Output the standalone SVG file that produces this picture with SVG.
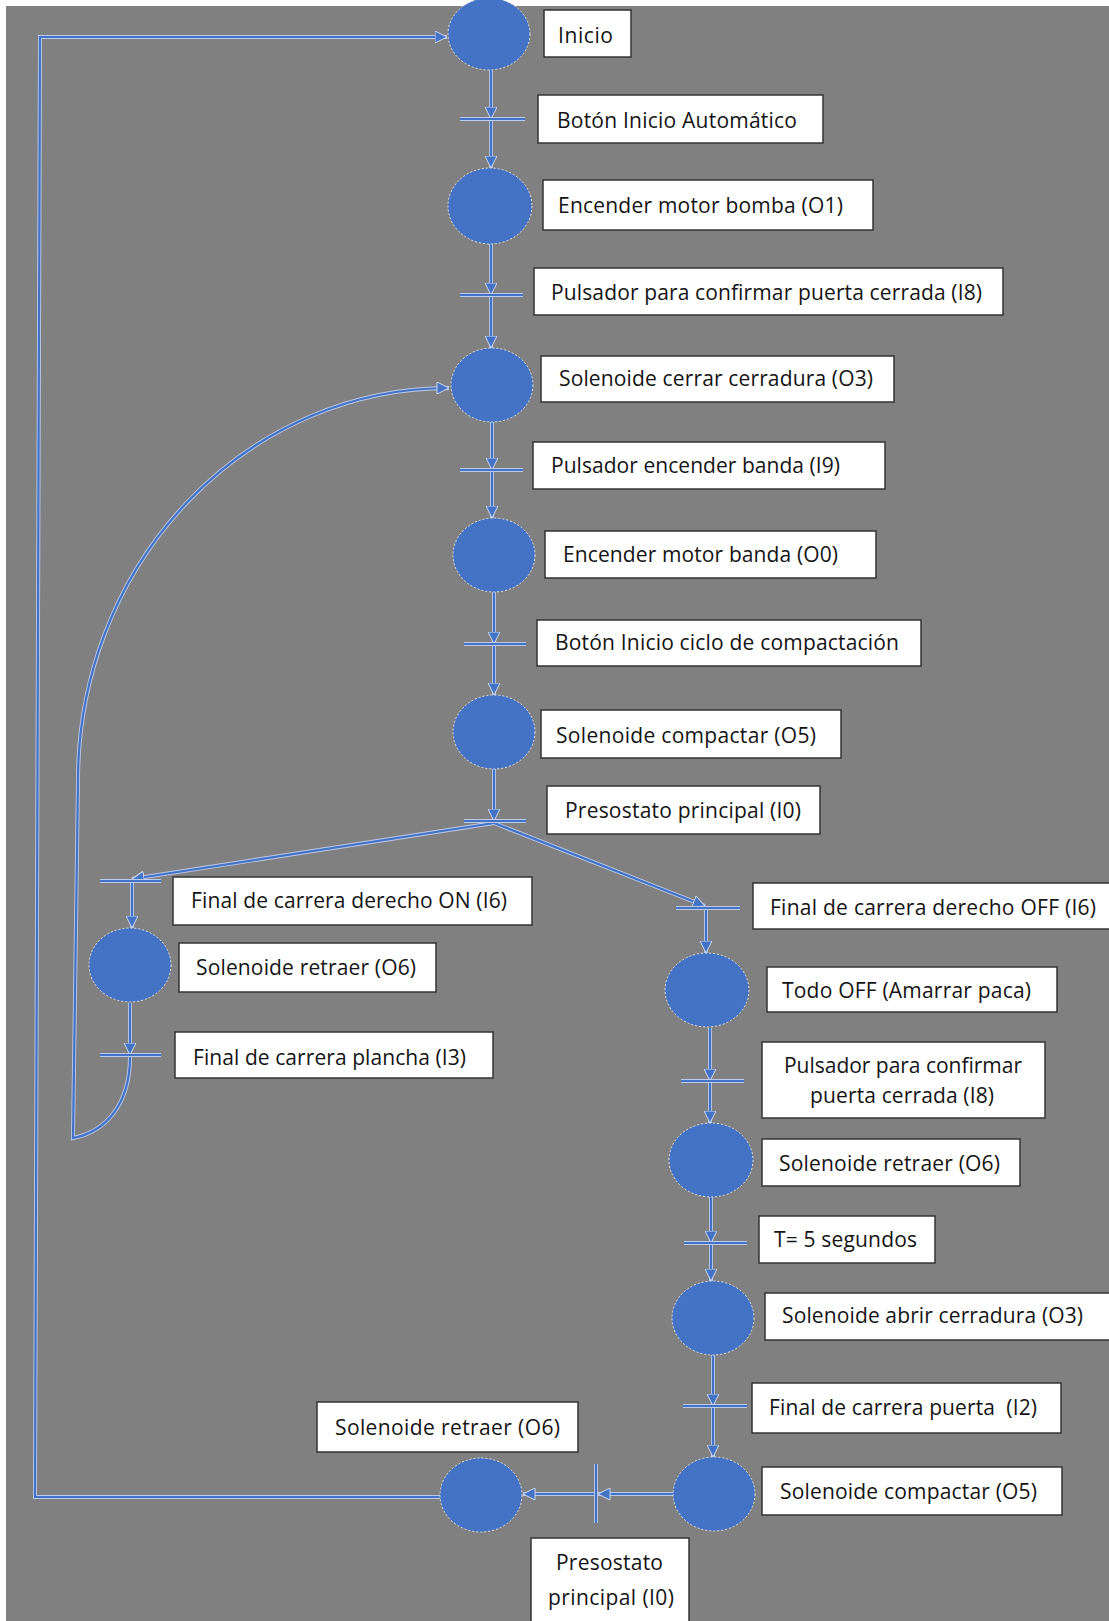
<svg xmlns="http://www.w3.org/2000/svg" width="1109" height="1621" viewBox="0 0 1109 1621">
  <style>
    .bg{fill:#808080}
    .step{fill:#4472C4;stroke:#e4e4e4;stroke-width:1;stroke-dasharray:2 2}
    .box{fill:#ffffff;stroke:#333333;stroke-width:1.5}
    .lbl{font-family:"Open Sans","Noto Sans","DejaVu Sans",sans-serif;font-size:21px;fill:#141414}
    .halo{fill:none;stroke:#bccbeb;stroke-width:4}
    .wire{fill:none;stroke:#4472C4;stroke-width:2.2}
    .wire.a{marker-end:url(#ah)}
    .barh{fill:none;stroke:#bccbeb;stroke-width:4}
    .bar{fill:none;stroke:#4472C4;stroke-width:2.2}
  </style>
  <defs>
    <marker id="ah" viewBox="0 0 10 10" refX="10" refY="5" markerWidth="13" markerHeight="12" markerUnits="userSpaceOnUse" orient="auto">
      <path d="M0,0 L10,5 L0,10 Z" fill="#4472C4" stroke="#d2dcf2" stroke-width="0.8"/>
    </marker>
  </defs>

  <rect x="0" y="0" width="1109" height="1621" fill="#ffffff"/>
  <rect class="bg" x="6" y="6" width="1103" height="1615"/>

  <!-- connectors: light halo first, blue wire on top -->
  <g id="connectors">
    <g class="halo">
      <path d="M491,70 V119"/>
      <path d="M491,121 V168"/>
      <path d="M491,244 V295"/>
      <path d="M491,297 V348"/>
      <path d="M492,422 V470"/>
      <path d="M492,472 V518"/>
      <path d="M494,592 V644"/>
      <path d="M494,646 V695"/>
      <path d="M494,769 V821"/>
      <path d="M494,823 L132,879"/>
      <path d="M494,823 L705,906"/>
      <path d="M132,883 V928"/>
      <path d="M130,1003 V1055"/>
      <path d="M130,1057 C130,1105 105,1132 73,1138 L78,780 A371,392 0 0 1 449,388"/>
      <path d="M706,910 V953"/>
      <path d="M710,1028 V1081"/>
      <path d="M710,1083 V1123"/>
      <path d="M711,1197 V1243"/>
      <path d="M711,1245 V1281"/>
      <path d="M713,1355 V1406"/>
      <path d="M713,1408 V1457"/>
      <path d="M673,1494 H598"/>
      <path d="M596,1494 H523"/>
      <path d="M440,1497 H35 L40,37 H447"/>
    </g>
    <g>
      <path class="wire a" d="M491,70 V119"/>
      <path class="wire a" d="M491,121 V168"/>
      <path class="wire a" d="M491,244 V295"/>
      <path class="wire a" d="M491,297 V348"/>
      <path class="wire a" d="M492,422 V470"/>
      <path class="wire a" d="M492,472 V518"/>
      <path class="wire a" d="M494,592 V644"/>
      <path class="wire a" d="M494,646 V695"/>
      <path class="wire a" d="M494,769 V821"/>
      <path class="wire a" d="M494,823 L132,879"/>
      <path class="wire a" d="M494,823 L705,906"/>
      <path class="wire a" d="M132,883 V928"/>
      <path class="wire a" d="M130,1003 V1055"/>
      <path class="wire a" d="M130,1057 C130,1105 105,1132 73,1138 L78,780 A371,392 0 0 1 449,388"/>
      <path class="wire a" d="M706,910 V953"/>
      <path class="wire a" d="M710,1028 V1081"/>
      <path class="wire a" d="M710,1083 V1123"/>
      <path class="wire a" d="M711,1197 V1243"/>
      <path class="wire a" d="M711,1245 V1281"/>
      <path class="wire a" d="M713,1355 V1406"/>
      <path class="wire a" d="M713,1408 V1457"/>
      <path class="wire a" d="M673,1494 H598"/>
      <path class="wire a" d="M596,1494 H523"/>
      <path class="wire a" d="M440,1497 H35 L40,37 H447"/>
    </g>
  </g>

  <!-- steps (circles) with their action labels -->
  <g id="step-inicio">
    <ellipse class="step" cx="489" cy="34" rx="41" ry="36"/>
    <rect class="box" x="544" y="10" width="87" height="47"/>
    <text class="lbl" x="558" y="43" textLength="55">Inicio</text>
  </g>
  <g id="step-motor-bomba">
    <ellipse class="step" cx="490" cy="206" rx="42" ry="38"/>
    <rect class="box" x="543" y="180" width="330" height="50"/>
    <text class="lbl" x="558" y="213" textLength="285">Encender motor bomba (O1)</text>
  </g>
  <g id="step-cerrar-cerradura">
    <ellipse class="step" cx="492" cy="385" rx="41" ry="37"/>
    <rect class="box" x="541" y="356" width="353" height="46"/>
    <text class="lbl" x="559" y="386" textLength="314">Solenoide cerrar cerradura (O3)</text>
  </g>
  <g id="step-motor-banda">
    <ellipse class="step" cx="494" cy="555" rx="41" ry="37"/>
    <rect class="box" x="545" y="531" width="331" height="47"/>
    <text class="lbl" x="563" y="562" textLength="275">Encender motor banda (O0)</text>
  </g>
  <g id="step-compactar">
    <ellipse class="step" cx="494" cy="732" rx="41" ry="37"/>
    <rect class="box" x="541" y="710" width="300" height="48"/>
    <text class="lbl" x="556" y="743" textLength="260">Solenoide compactar (O5)</text>
  </g>
  <g id="step-retraer-izq">
    <ellipse class="step" cx="130" cy="965" rx="41" ry="37"/>
    <rect class="box" x="179" y="943" width="257" height="49"/>
    <text class="lbl" x="196" y="975" textLength="220">Solenoide retraer (O6)</text>
  </g>
  <g id="step-todo-off">
    <ellipse class="step" cx="707" cy="990" rx="42" ry="37"/>
    <rect class="box" x="767" y="967" width="290" height="45"/>
    <text class="lbl" x="782" y="998" textLength="249">Todo OFF (Amarrar paca)</text>
  </g>
  <g id="step-retraer-der">
    <ellipse class="step" cx="711" cy="1160" rx="42" ry="37"/>
    <rect class="box" x="762" y="1139" width="258" height="47"/>
    <text class="lbl" x="779" y="1171" textLength="221">Solenoide retraer (O6)</text>
  </g>
  <g id="step-abrir-cerradura">
    <ellipse class="step" cx="713" cy="1318" rx="41" ry="37"/>
    <rect class="box" x="765" y="1293" width="350" height="47"/>
    <text class="lbl" x="782" y="1323" textLength="301">Solenoide abrir cerradura (O3)</text>
  </g>
  <g id="step-compactar-final">
    <ellipse class="step" cx="714" cy="1494" rx="41" ry="37"/>
    <rect class="box" x="762" y="1467" width="300" height="48"/>
    <text class="lbl" x="780" y="1499" textLength="257">Solenoide compactar (O5)</text>
  </g>
  <g id="step-retraer-final">
    <ellipse class="step" cx="481" cy="1495" rx="41" ry="37"/>
    <rect class="box" x="317" y="1402" width="261" height="50"/>
    <text class="lbl" x="335" y="1435" textLength="225">Solenoide retraer (O6)</text>
  </g>

  <!-- transitions (bars) with their conditions -->
  <g id="tr-boton-inicio">
    <path class="barh" d="M460,119 H525"/><path class="bar" d="M460,119 H525"/>
    <rect class="box" x="538" y="95" width="285" height="48"/>
    <text class="lbl" x="557" y="128" textLength="240">Botón Inicio Automático</text>
  </g>
  <g id="tr-puerta-cerrada">
    <path class="barh" d="M460,295 H523"/><path class="bar" d="M460,295 H523"/>
    <rect class="box" x="534" y="268" width="469" height="47"/>
    <text class="lbl" x="551" y="300" textLength="431">Pulsador para confirmar puerta cerrada (I8)</text>
  </g>
  <g id="tr-encender-banda">
    <path class="barh" d="M460,470 H523"/><path class="bar" d="M460,470 H523"/>
    <rect class="box" x="533" y="442" width="352" height="47"/>
    <text class="lbl" x="551" y="473" textLength="289">Pulsador encender banda (I9)</text>
  </g>
  <g id="tr-ciclo-compactacion">
    <path class="barh" d="M464,644 H526"/><path class="bar" d="M464,644 H526"/>
    <rect class="box" x="537" y="620" width="384" height="46"/>
    <text class="lbl" x="555" y="650" textLength="344">Botón Inicio ciclo de compactación</text>
  </g>
  <g id="tr-presostato">
    <path class="barh" d="M464,821 H526"/><path class="bar" d="M464,821 H526"/>
    <rect class="box" x="547" y="786" width="273" height="48"/>
    <text class="lbl" x="565" y="818" textLength="236">Presostato principal (I0)</text>
  </g>
  <g id="tr-derecho-on">
    <path class="barh" d="M100,881 H161"/><path class="bar" d="M100,881 H161"/>
    <rect class="box" x="173" y="877" width="359" height="48"/>
    <text class="lbl" x="191" y="908" textLength="316">Final de carrera derecho ON (I6)</text>
  </g>
  <g id="tr-plancha">
    <path class="barh" d="M100,1055 H161"/><path class="bar" d="M100,1055 H161"/>
    <rect class="box" x="175" y="1032" width="318" height="46"/>
    <text class="lbl" x="193" y="1065" textLength="273">Final de carrera plancha (I3)</text>
  </g>
  <g id="tr-derecho-off">
    <path class="barh" d="M676,908 H740"/><path class="bar" d="M676,908 H740"/>
    <rect class="box" x="753" y="883" width="362" height="46"/>
    <text class="lbl" x="770" y="915" textLength="326">Final de carrera derecho OFF (I6)</text>
  </g>
  <g id="tr-puerta-cerrada-2">
    <path class="barh" d="M681,1081 H744"/><path class="bar" d="M681,1081 H744"/>
    <rect class="box" x="762" y="1042" width="283" height="76"/>
    <text class="lbl" x="784" y="1073" textLength="238">Pulsador para confirmar</text>
    <text class="lbl" x="810" y="1103" textLength="184">puerta cerrada (I8)</text>
  </g>
  <g id="tr-temporizador">
    <path class="barh" d="M684,1243 H747"/><path class="bar" d="M684,1243 H747"/>
    <rect class="box" x="759" y="1216" width="176" height="47"/>
    <text class="lbl" x="774" y="1247" textLength="143">T= 5 segundos</text>
  </g>
  <g id="tr-carrera-puerta">
    <path class="barh" d="M683,1406 H747"/><path class="bar" d="M683,1406 H747"/>
    <rect class="box" x="752" y="1383" width="309" height="50"/>
    <text class="lbl" x="769" y="1415" textLength="268" xml:space="preserve">Final de carrera puerta  (I2)</text>
  </g>
  <g id="tr-presostato-final">
    <path class="barh" d="M596,1464 V1523"/><path class="bar" d="M596,1464 V1523"/>
    <rect class="box" x="531" y="1538" width="158" height="92"/>
    <text class="lbl" x="556" y="1570" textLength="107">Presostato</text>
    <text class="lbl" x="548" y="1605" textLength="126">principal (I0)</text>
  </g>
</svg>
